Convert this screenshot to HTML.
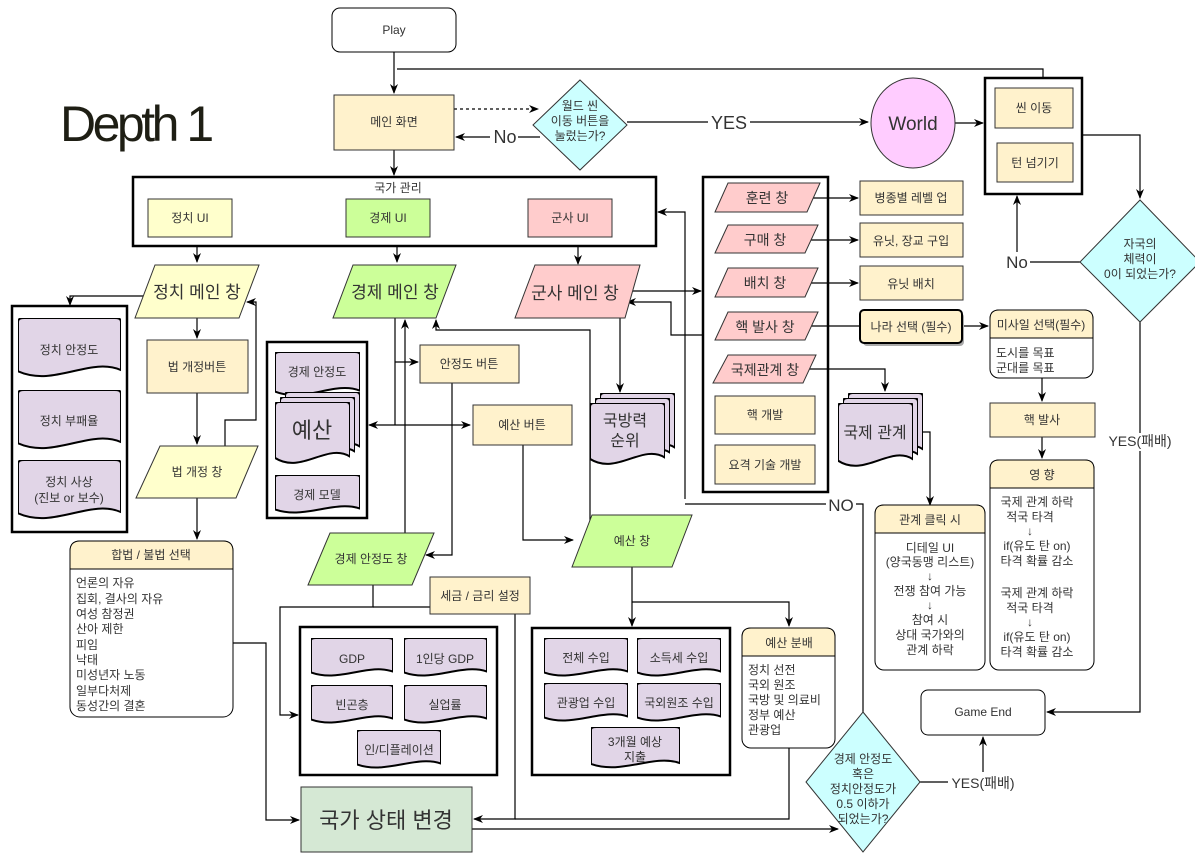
<!DOCTYPE html>
<html><head><meta charset="utf-8"><style>
html,body{margin:0;padding:0;background:#fff;}
svg{display:block;font-family:"Liberation Sans","Noto Sans CJK KR",sans-serif;}
text{fill:#333;}
</style></head><body>
<svg width="1195" height="855" viewBox="0 0 1195 855" xmlns="http://www.w3.org/2000/svg">
<defs>
<marker id="a" markerWidth="10" markerHeight="10" refX="9" refY="5" orient="auto" markerUnits="userSpaceOnUse"><path d="M0,1 L10,5 L0,9 L3,5 Z" fill="#000"/></marker>
<symbol id="doc" viewBox="0 0 100 100" preserveAspectRatio="none"><path d="M0,6 Q0,0 6,0 L94,0 Q100,0 100,6 L100,84 C70,62 35,112 0,86 Z" vector-effect="non-scaling-stroke"/></symbol>
</defs>
<g font-size="12" text-anchor="middle">
<text x="60" y="141" font-size="50" text-anchor="start" letter-spacing="-3.5" style="fill:#1e1e14">Depth 1</text>

<g fill="none" stroke="#000" stroke-width="1.2">
<path d="M394,52 V93" marker-end="url(#a)"/>
<path d="M1043,88 V69 H397"/>
<path d="M454,109 H538" stroke-dasharray="3,3" marker-end="url(#a)"/>
<path d="M540,137 H456" marker-end="url(#a)"/>
<path d="M627,122 H868" marker-end="url(#a)"/>
<path d="M955,123 H983" marker-end="url(#a)"/>
<path d="M1082,135 H1140 V198" marker-end="url(#a)"/>
<path d="M1080,262 H1017 V196" marker-end="url(#a)"/>
<path d="M1140,322 V712 H1047" marker-end="url(#a)"/>
<path d="M394,150 V175" marker-end="url(#a)"/>
<path d="M197,246 V262" marker-end="url(#a)"/>
<path d="M397,246 V262" marker-end="url(#a)"/>
<path d="M578,246 V264" marker-end="url(#a)"/>
<path d="M145,296 H70 V305" marker-end="url(#a)"/>
<path d="M197,317 V338" marker-end="url(#a)"/>
<path d="M197,393 V444" marker-end="url(#a)"/>
<path d="M225,446 V420 H256 V302 H247" marker-end="url(#a)"/>
<path d="M197,498 V539" marker-end="url(#a)"/>
<path d="M233,643 H266 V820 H299" marker-end="url(#a)"/>
<path d="M395,318 V425"/>
<path d="M395,362 H418" marker-end="url(#a)"/>
<path d="M395,425 H470" marker-end="url(#a)"/>
<path d="M395,425 H369" marker-end="url(#a)"/>
<path d="M405,533 V320" marker-end="url(#a)"/>
<path d="M452,383 V555 H426" marker-end="url(#a)"/>
<path d="M523,445 V540 H573" marker-end="url(#a)"/>
<path d="M590,527 V330 H436 V320" marker-end="url(#a)"/>
<path d="M373,585 V607 H280 V715 H298" marker-end="url(#a)"/>
<path d="M373,607 H430"/>
<path d="M515,614 V819 H474" marker-end="url(#a)"/>
<path d="M515,819 H789 V748"/>
<path d="M472,829 H838" marker-end="url(#a)"/>
<path d="M632,567 V602 V626" marker-end="url(#a)"/>
<path d="M632,602 H789 V626" marker-end="url(#a)"/>
<path d="M632,291 H701" marker-end="url(#a)"/>
<path d="M703,335 H671 V302 H627" marker-end="url(#a)"/>
<path d="M620,318 V392" marker-end="url(#a)"/>
<path d="M685,499 V212 H658" marker-end="url(#a)"/>
<path d="M685,504 H826 M856,504 H863 V712"/>
<path d="M805,198 H858" marker-end="url(#a)"/>
<path d="M805,240 H858" marker-end="url(#a)"/>
<path d="M805,283 H858" marker-end="url(#a)"/>
<path d="M805,326 H860"/>
<path d="M962,326 H988" marker-end="url(#a)"/>
<path d="M1042,378 V401" marker-end="url(#a)"/>
<path d="M1042,437 V458" marker-end="url(#a)"/>
<path d="M805,369 H885 V391" marker-end="url(#a)"/>
<path d="M922,432 H930 V505" marker-end="url(#a)"/>
<path d="M920,782 H948"/>
<path d="M983,772 V737" marker-end="url(#a)"/>
</g>

<rect x="332" y="8" width="124" height="44" rx="8" fill="#fff" stroke="#000"/>
<text x="394" y="34">Play</text>
<rect x="334" y="95" width="120" height="55" fill="#fff2cc" stroke="#333"/>
<text x="394" y="126">메인 화면</text>
<polygon points="580,80 627,125 580,170 533,125" fill="#ccffff" stroke="#333"/>
<text x="580" y="110">월드 씬</text><text x="580" y="125">이동 버튼을</text><text x="580" y="140">눌렀는가?</text>
<rect x="490" y="128" width="28" height="18" fill="#fff"/><text x="505" y="143" font-size="18">No</text>
<rect x="708" y="112" width="42" height="20" fill="#fff"/><text x="729" y="129" font-size="18">YES</text>
<ellipse cx="913" cy="123" rx="42" ry="45" fill="#ffccff" stroke="#333"/>
<text x="913" y="130" font-size="19">World</text>
<rect x="985" y="78" width="97" height="116" fill="#fff" stroke="#000" stroke-width="2.5"/>
<rect x="995" y="88" width="78" height="40" fill="#fff2cc" stroke="#333"/><text x="1034" y="112">씬 이동</text>
<rect x="997" y="143" width="76" height="39" fill="#fff2cc" stroke="#333"/><text x="1035" y="167">턴 넘기기</text>
<polygon points="1140,200 1200,262 1140,322 1080,262" fill="#ccffff" stroke="#333"/>
<text x="1140" y="248">자국의</text><text x="1140" y="263">체력이</text><text x="1140" y="278">0이 되었는가?</text>
<rect x="1004" y="252" width="26" height="20" fill="#fff"/><text x="1017" y="268" font-size="17">No</text>
<rect x="1105" y="433" width="70" height="18" fill="#fff"/><text x="1140" y="446" font-size="14">YES(패배)</text>
<rect x="921" y="690" width="124" height="45" rx="7" fill="#fff" stroke="#000"/><text x="983" y="716">Game End</text>

<rect x="133" y="177" width="523" height="69" fill="none" stroke="#000" stroke-width="2.5"/>
<text x="398" y="192">국가 관리</text>
<rect x="148" y="199" width="84" height="38" fill="#ffffcc" stroke="#333"/><text x="190" y="222">정치 UI</text>
<rect x="346" y="199" width="84" height="38" fill="#ccff99" stroke="#333"/><text x="388" y="222">경제 UI</text>
<rect x="528" y="199" width="84" height="38" fill="#ffcccc" stroke="#333"/><text x="570" y="222">군사 UI</text>

<polygon points="155,265 259,265 239,318 135,318" fill="#ffffcc" stroke="#333"/>
<text x="197" y="298" font-size="17">정치 메인 창</text>
<rect x="12" y="306" width="115" height="226" fill="#fff" stroke="#000" stroke-width="2.5"/>
<g fill="#e1d5e7" stroke="#000" stroke-width="2">
<use href="#doc" x="18" y="318" width="103" height="62"/>
<use href="#doc" x="18" y="390" width="103" height="62"/>
<use href="#doc" x="18" y="460" width="103" height="62"/>
</g>
<text x="69" y="354">정치 안정도</text><text x="69" y="425">정치 부패율</text>
<text x="69" y="486">정치 사상</text><text x="69" y="502">(진보 or 보수)</text>
<rect x="147" y="340" width="101" height="53" fill="#fff2cc" stroke="#333"/><text x="197" y="371">법 개정버튼</text>
<polygon points="160,446 258,446 236,498 136,498" fill="#ffffcc" stroke="#333"/><text x="197" y="476">법 개정 창</text>
<rect x="70" y="541" width="163" height="176" rx="10" fill="#fff" stroke="#000"/>
<path d="M70,569 V551 Q70,541 80,541 H223 Q233,541 233,551 V569 Z" fill="#fff2cc" stroke="#000"/>
<text x="151" y="559">합법 / 불법 선택</text>
<g text-anchor="start">
<text x="76" y="587">언론의 자유</text><text x="76" y="603">집회, 결사의 자유</text><text x="76" y="618">여성 참정권</text>
<text x="76" y="633">산아 제한</text><text x="76" y="649">피임</text><text x="76" y="664">낙태</text>
<text x="76" y="679">미성년자 노동</text><text x="76" y="695">일부다처제</text><text x="76" y="710">동성간의 결혼</text>
</g>

<polygon points="353,265 456,265 436,318 333,318" fill="#ccff99" stroke="#333"/>
<text x="395" y="298" font-size="17">경제 메인 창</text>
<rect x="267" y="342" width="100" height="176" fill="#fff" stroke="#000" stroke-width="2.5"/>
<g fill="#e1d5e7" stroke="#000" stroke-width="2">
<use href="#doc" x="275" y="352" width="85" height="46"/>
<use href="#doc" x="285" y="392" width="75" height="65"/>
<use href="#doc" x="280" y="397" width="75" height="65"/>
<use href="#doc" x="275" y="402" width="75" height="65"/>
<use href="#doc" x="275" y="475" width="85" height="40"/>
</g>
<text x="317" y="376">경제 안정도</text>
<text x="312" y="438" font-size="22">예산</text>
<text x="317" y="499">경제 모델</text>
<rect x="420" y="345" width="99" height="38" fill="#fff2cc" stroke="#333"/><text x="469" y="368">안정도 버튼</text>
<rect x="473" y="405" width="99" height="40" fill="#fff2cc" stroke="#333"/><text x="522" y="429">예산 버튼</text>
<polygon points="330,533 434,533 412,585 308,585" fill="#ccff99" stroke="#333"/><text x="371" y="563">경제 안정도 창</text>
<rect x="430" y="577" width="100" height="37" fill="#fff2cc" stroke="#333"/><text x="480" y="600">세금 / 금리 설정</text>
<rect x="300" y="627" width="197" height="148" fill="#fff" stroke="#000" stroke-width="2.5"/>
<g fill="#e1d5e7" stroke="#000" stroke-width="2">
<use href="#doc" x="311" y="638" width="82" height="40"/>
<use href="#doc" x="404" y="638" width="83" height="40"/>
<use href="#doc" x="311" y="685" width="82" height="40"/>
<use href="#doc" x="404" y="685" width="83" height="40"/>
<use href="#doc" x="357" y="730" width="84" height="40"/>
</g>
<text x="352" y="663">GDP</text><text x="445" y="663">1인당 GDP</text>
<text x="352" y="709">빈곤층</text><text x="445" y="709">실업률</text><text x="399" y="754">인/디플레이션</text>
<rect x="301" y="787" width="171" height="65" fill="#d5e8d4" stroke="#333"/>
<text x="386" y="828" font-size="22">국가 상태 변경</text>
<polygon points="592,515 692,515 672,567 572,567" fill="#ccff99" stroke="#333"/><text x="632" y="545">예산 창</text>
<rect x="532" y="628" width="198" height="147" fill="#fff" stroke="#000" stroke-width="2.5"/>
<g fill="#e1d5e7" stroke="#000" stroke-width="2">
<use href="#doc" x="544" y="638" width="84" height="40"/>
<use href="#doc" x="637" y="638" width="84" height="40"/>
<use href="#doc" x="544" y="683" width="84" height="40"/>
<use href="#doc" x="637" y="683" width="84" height="40"/>
<use href="#doc" x="591" y="727" width="89" height="43"/>
</g>
<text x="586" y="662">전체 수입</text><text x="679" y="662">소득세 수입</text>
<text x="586" y="707">관광업 수입</text><text x="679" y="707">국외원조 수입</text>
<text x="635" y="746">3개월 예상</text><text x="635" y="761">지출</text>
<rect x="742" y="628" width="93" height="120" rx="9" fill="#fff" stroke="#000"/>
<path d="M742,656 V637 Q742,628 751,628 H826 Q835,628 835,637 V656 Z" fill="#fff2cc" stroke="#000"/>
<text x="789" y="647">예산 분배</text>
<g text-anchor="start">
<text x="748" y="674">정치 선전</text><text x="748" y="689">국외 원조</text><text x="748" y="704">국방 및 의료비</text>
<text x="748" y="719">정부 예산</text><text x="748" y="734">관광업</text>
</g>
<polygon points="863,712 920,782 863,852 806,782" fill="#ccffff" stroke="#333"/>
<text x="863" y="763">경제 안정도</text><text x="863" y="778">혹은</text><text x="863" y="793">정치안정도가</text>
<text x="863" y="808">0.5 이하가</text><text x="863" y="823">되었는가?</text>
<text x="983" y="788" font-size="14">YES(패배)</text>

<polygon points="535,265 640,265 625,318 515,318" fill="#ffcccc" stroke="#333"/>
<text x="575" y="299" font-size="17">군사 메인 창</text>
<g fill="#e1d5e7" stroke="#000" stroke-width="2">
<use href="#doc" x="600" y="393" width="75" height="65"/>
<use href="#doc" x="595" y="398" width="75" height="65"/>
<use href="#doc" x="590" y="403" width="75" height="65"/>
</g>
<text x="625" y="426" font-size="16">국방력</text><text x="625" y="446" font-size="16">순위</text>
<rect x="703" y="177" width="125" height="315" fill="none" stroke="#000" stroke-width="2.5"/>
<g fill="#ffcccc" stroke="#333">
<polygon points="728,183 820,183 807,212 715,212"/>
<polygon points="728,225 818,225 805,253 715,253"/>
<polygon points="728,268 818,268 805,297 715,297"/>
<polygon points="728,312 818,312 805,340 715,340"/>
<polygon points="728,355 816,355 803,383 713,383"/>
</g>
<g font-size="14"><text x="767" y="203">훈련 창</text><text x="765" y="245">구매 창</text><text x="765" y="288">배치 창</text>
<text x="765" y="332">핵 발사 창</text><text x="765" y="375">국제관계 창</text></g>
<rect x="715" y="396" width="100" height="38" fill="#fff2cc" stroke="#333"/><text x="765" y="419">핵 개발</text>
<rect x="715" y="445" width="100" height="39" fill="#fff2cc" stroke="#333"/><text x="765" y="469">요격 기술 개발</text>
<rect x="860" y="181" width="103" height="34" fill="#fff2cc" stroke="#333"/><text x="911" y="202">병종별 레벨 업</text>
<rect x="860" y="223" width="103" height="34" fill="#fff2cc" stroke="#333"/><text x="911" y="245">유닛, 장교 구입</text>
<rect x="860" y="266" width="103" height="34" fill="#fff2cc" stroke="#333"/><text x="911" y="288">유닛 배치</text>
<rect x="863" y="313" width="101" height="33" rx="4" fill="#aaa"/>
<rect x="860" y="310" width="102" height="33" rx="4" fill="#fff2cc" stroke="#000" stroke-width="2"/><text x="911" y="331">나라 선택 (필수)</text>
<rect x="990" y="310" width="103" height="68" rx="9" fill="#fff" stroke="#000"/>
<path d="M990,338 V319 Q990,310 999,310 H1084 Q1093,310 1093,319 V338 Z" fill="#fff2cc" stroke="#000"/>
<text x="1041" y="329">미사일 선택(필수)</text>
<text x="996" y="357" text-anchor="start">도시를 목표</text><text x="996" y="372" text-anchor="start">군대를 목표</text>
<rect x="990" y="403" width="105" height="34" fill="#fff2cc" stroke="#333"/><text x="1042" y="424">핵 발사</text>
<rect x="990" y="460" width="104" height="210" rx="9" fill="#fff" stroke="#000"/>
<path d="M990,488 V469 Q990,460 999,460 H1085 Q1094,460 1094,469 V488 Z" fill="#fff2cc" stroke="#000"/>
<text x="1042" y="479">영 향</text>
<text x="1037" y="506">국제 관계 하락</text><text x="1030" y="521">적국 타격</text><text x="1030" y="535">↓</text>
<text x="1037" y="550">if(유도 탄 on)</text><text x="1037" y="565">타격 확률 감소</text>
<text x="1037" y="597">국제 관계 하락</text><text x="1030" y="612">적국 타격</text><text x="1030" y="626">↓</text>
<text x="1037" y="641">if(유도 탄 on)</text><text x="1037" y="656">타격 확률 감소</text>
<g fill="#e1d5e7" stroke="#000" stroke-width="2">
<use href="#doc" x="848" y="393" width="75" height="67"/>
<use href="#doc" x="843" y="398" width="75" height="67"/>
<use href="#doc" x="838" y="403" width="75" height="67"/>
</g>
<text x="875" y="438" font-size="16">국제 관계</text>
<rect x="875" y="505" width="110" height="165" rx="9" fill="#fff" stroke="#000"/>
<path d="M875,533 V514 Q875,505 884,505 H976 Q985,505 985,514 V533 Z" fill="#fff2cc" stroke="#000"/>
<text x="930" y="524">관계 클릭 시</text>
<text x="930" y="552">디테일 UI</text><text x="930" y="566">(양국동맹 리스트)</text><text x="930" y="580">↓</text>
<text x="930" y="595">전쟁 참여 가능</text><text x="930" y="609">↓</text>
<text x="930" y="624">참여 시</text><text x="930" y="639">상대 국가와의</text><text x="930" y="654">관계 하락</text>
<text x="841" y="511" font-size="17">NO</text>
</g>
</svg>
</body></html>
